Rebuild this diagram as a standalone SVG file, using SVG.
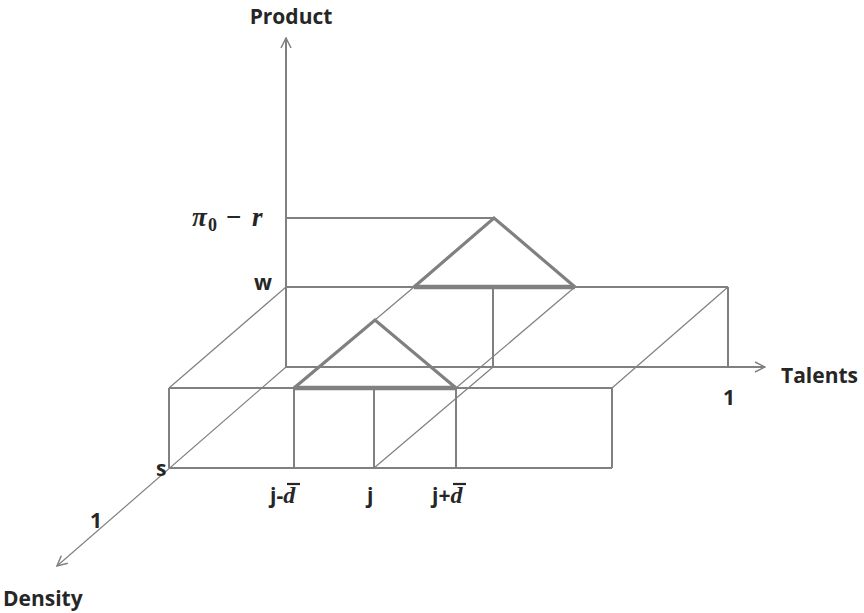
<svg xmlns="http://www.w3.org/2000/svg" width="864" height="613" viewBox="0 0 864 613">
<style>
.l{stroke:#808080;stroke-width:2;fill:none}
.t{stroke:#808080;stroke-width:1.2;fill:none}
.k{stroke:#808080;stroke-width:3.2;fill:none;stroke-linejoin:miter}
.b{stroke:#808080;stroke-width:4.5;fill:none}
text{font-family:"Open Sans","Liberation Sans",sans-serif;font-weight:bold;fill:#262626;font-size:21px}
.m{font-family:"Liberation Serif","DejaVu Serif",serif;font-style:italic;font-weight:bold}
.p{font-size:27px}
.s{font-size:18px;font-style:normal}
.d{font-size:24px}
.n{font-style:normal}
</style>
<defs>
<marker id="a" viewBox="0 0 12 12" refX="11" refY="6" markerWidth="12" markerHeight="12" markerUnits="userSpaceOnUse" orient="auto">
<path d="M1,1 L11,6 L1,11" fill="none" stroke="#808080" stroke-width="1.5"/>
</marker>
</defs>
<g id="connectors">
<line class="l" x1="286" y1="367" x2="286" y2="38" marker-end="url(#a)"/>
<line class="l" x1="286" y1="367" x2="765" y2="367" marker-end="url(#a)"/>
<line class="t" x1="286" y1="367" x2="57" y2="566" marker-end="url(#a)"/>
<line class="l" x1="286" y1="218" x2="494" y2="218"/>
<line class="l" x1="286" y1="287" x2="728" y2="287"/>
<line class="l" x1="728" y1="287" x2="728" y2="367"/>
<line class="l" x1="493" y1="287" x2="493" y2="367"/>
<line class="t" x1="169" y1="388" x2="286" y2="287"/>
<line class="t" x1="612" y1="388" x2="728" y2="287"/>
<line class="t" x1="374" y1="468" x2="493" y2="367"/>
<line class="t" x1="456" y1="388" x2="575" y2="287"/>
<line class="t" x1="375" y1="320" x2="414" y2="287"/>
<line class="l" x1="169" y1="388" x2="612" y2="388"/>
<line class="l" x1="169" y1="468" x2="612" y2="468"/>
<line class="l" x1="169" y1="388" x2="169" y2="468"/>
<line class="l" x1="294" y1="388" x2="294" y2="468"/>
<line class="l" x1="374" y1="388" x2="374" y2="468"/>
<line class="l" x1="456" y1="388" x2="456" y2="468"/>
<line class="l" x1="612" y1="388" x2="612" y2="468"/>
</g>
<g id="triangle-front">
<polyline class="k" points="294,388 375,320 456,388"/>
<line class="b" x1="294" y1="388" x2="456" y2="388"/>
</g>
<g id="triangle-back">
<polyline class="k" points="414,287 494,218 575,287"/>
<line class="b" x1="414" y1="287" x2="575" y2="287"/>
</g>
<g id="labels">
<text x="291" y="24" text-anchor="middle">Product</text>
<text x="781" y="383">Talents</text>
<text x="3" y="606">Density</text>
<text x="729" y="405" text-anchor="middle">1</text>
<text x="96" y="528" text-anchor="middle">1</text>
<text x="156" y="476">s</text>
<text x="254" y="290">w</text>
<text class="m p" x="192" y="226">π<tspan class="s" x="208" dy="5">0</tspan><tspan class="n" x="226" dy="-5">−</tspan><tspan x="252">r</tspan></text>
<text x="270" y="503">j-<tspan class="m d">d</tspan></text>
<line x1="287" y1="484" x2="300" y2="484" stroke="#262626" stroke-width="2.2"/>
<text x="367" y="503">j</text>
<text x="432" y="503">j+<tspan class="m d">d</tspan></text>
<line x1="453" y1="484" x2="466" y2="484" stroke="#262626" stroke-width="2.2"/>
</g>
</svg>
